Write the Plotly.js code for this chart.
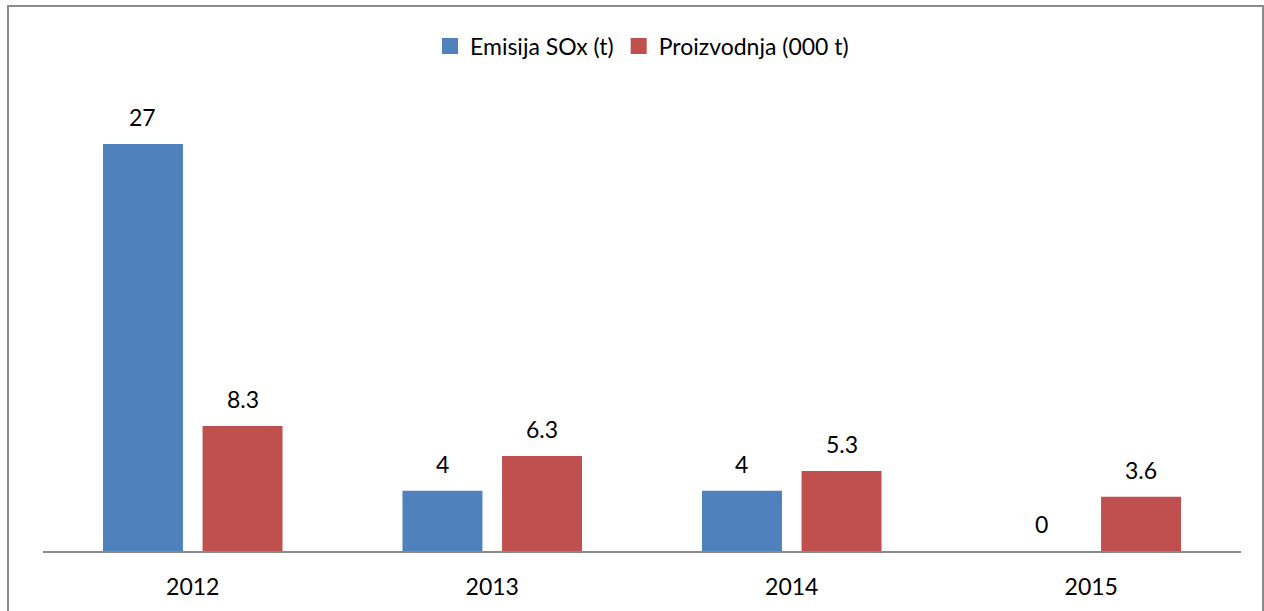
<!DOCTYPE html>
<html>
<head>
<meta charset="utf-8">
<script src="https://cdn.plot.ly/plotly-3.0.1.min.js"></script>
<style>
  html, body { margin: 0; padding: 0; background: #ffffff; }
  #wrap { position: relative; width: 1264px; height: 611px; overflow: hidden; }
  #chart { position: absolute; left: 0; top: 0; width: 1264px; height: 611px; }
  #frame { position: absolute; left: 7px; top: 5px; width: 1253px; height: 640px;
           border: 2px solid #8a8a8a; border-bottom: none; pointer-events: none; }
</style>
</head>
<body>
<div id="wrap">
  <div id="chart"></div>
  <div id="frame"></div>
</div>
<script>
const years = ['2012', '2013', '2014', '2015'];
const seriesNames = ['Emisija SOx (t)', 'Proizvodnja (000 t)'];
const emisija = [27, 4, 4, 0];
const proizvodnja = [8.3, 6.3, 5.3, 3.6];
const colors = ['#4F81BD', '#C0504D'];

const FONT = 'Lato, "Open Sans", sans-serif';
const FS = 23;

const traces = [
  { type: 'bar', name: seriesNames[0], x: years, y: emisija, showlegend: false,
    marker: { color: colors[0] }, hoverinfo: 'none' },
  { type: 'bar', name: seriesNames[1], x: years, y: proizvodnja, showlegend: false,
    marker: { color: colors[1] }, hoverinfo: 'none' },
  // legend entries with Excel-like square swatches
  { type: 'scatter', mode: 'markers', name: seriesNames[0], x: [null], y: [null],
    marker: { symbol: 'square', size: 16, color: colors[0] }, hoverinfo: 'none' },
  { type: 'scatter', mode: 'markers', name: seriesNames[1], x: [null], y: [null],
    marker: { symbol: 'square', size: 16, color: colors[1] }, hoverinfo: 'none' }
];

const annotations = [];
[emisija, proizvodnja].forEach((vals, si) => {
  vals.forEach((v, i) => {
    annotations.push({
      x: i, y: v, xref: 'x', yref: 'y',
      text: String(v), showarrow: false,
      xshift: si === 0 ? -50 : 50, yshift: 27,
      xanchor: 'center', yanchor: 'middle',
      font: { family: FONT, size: FS, color: '#000000' }
    });
  });
});

const layout = {
  width: 1264, height: 611,
  paper_bgcolor: '#ffffff', plot_bgcolor: '#ffffff',
  margin: { l: 43, r: 23, t: 40, b: 60 },
  barmode: 'group', bargap: 0.335, bargroupgap: 0.197,
  showlegend: true,
  legend: { orientation: 'h', x: 0.5, xanchor: 'center', y: 0.988, yanchor: 'middle',
            font: { family: FONT, size: FS, color: '#000000' }, traceorder: 'normal',
            itemsizing: 'trace', bgcolor: 'rgba(0,0,0,0)' },
  xaxis: { type: 'category', range: [-0.5, 3.5], showline: true, linecolor: '#8a8a8a', linewidth: 2,
           ticks: '', showgrid: false, zeroline: false,
           tickfont: { family: FONT, size: FS, color: '#000000' },
           ticklabelstandoff: 14, fixedrange: true },
  yaxis: { range: [0, 33.9], visible: false, showgrid: false, zeroline: false, fixedrange: true },
  annotations: annotations,
  font: { family: FONT }
};

Plotly.newPlot('chart', traces, layout, { displayModeBar: false, staticPlot: true });
</script>
</body>
</html>
